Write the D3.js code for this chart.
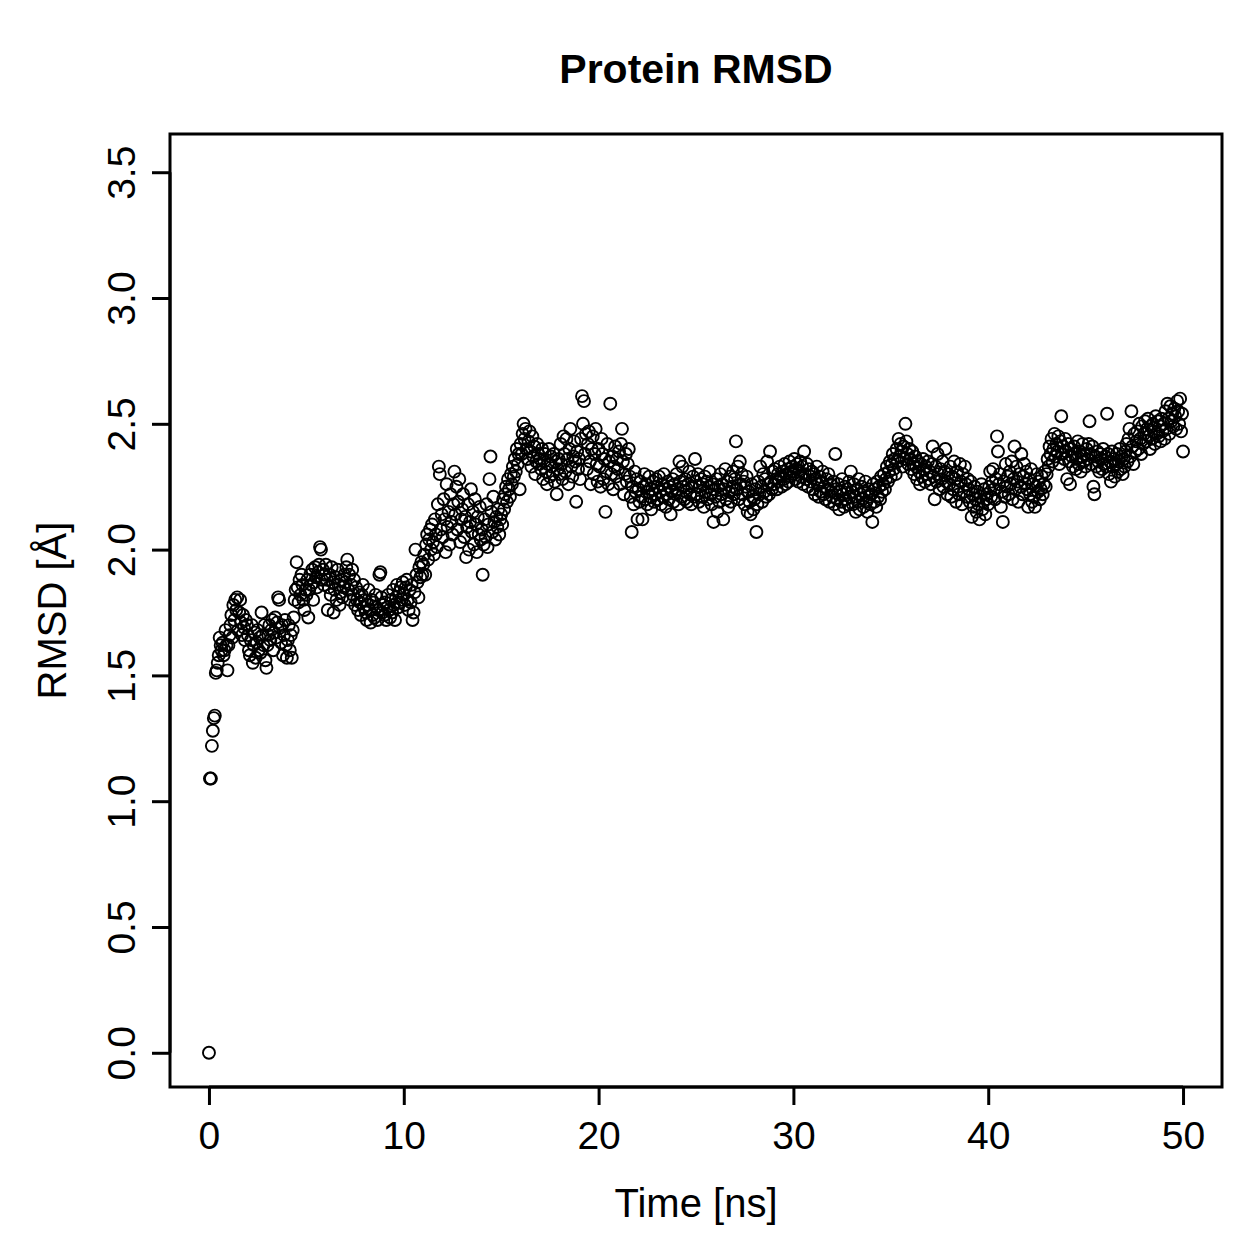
<!DOCTYPE html>
<html lang="en">
<head>
  <meta charset="UTF-8">
  <title>Protein RMSD</title>
  <style>
    body, html { margin: 0; padding: 0; background: white; }
    svg text { font-family: 'Liberation Sans', Arial, Helvetica, sans-serif; fill: black; }
  </style>
</head>
<body>
  <svg id="svg" width="1259" height="1259"></svg>
  <script src="https://d3js.org/d3.v7.min.js"></script>
  <script>
    // RMSD values, one row per ns, sampled every 0.05 ns
    const dt = 0.05
    const rmsd = [
      0.00, 1.09, 1.09, 1.22, 1.28, 1.33, 1.34, 1.51, 1.52, 1.55, 1.58, 1.65, 1.62, 1.60, 1.63, 1.58, 1.60, 1.68, 1.62, 1.52,
      1.62, 1.66, 1.70, 1.74, 1.65, 1.78, 1.72, 1.80, 1.76, 1.81, 1.68, 1.75, 1.80, 1.71, 1.66, 1.74, 1.69, 1.64, 1.72, 1.70,
      1.66, 1.60, 1.58, 1.64, 1.70, 1.55, 1.62, 1.67, 1.57, 1.63, 1.68, 1.60, 1.65, 1.59, 1.75, 1.66, 1.62, 1.70, 1.56, 1.53,
      1.62, 1.66, 1.70, 1.64, 1.68, 1.72, 1.60, 1.67, 1.73, 1.65, 1.71, 1.81, 1.80, 1.69, 1.63, 1.70, 1.58, 1.66, 1.72, 1.62,
      1.57, 1.64, 1.70, 1.60, 1.66, 1.57, 1.68, 1.73, 1.80, 1.84, 1.95, 1.85, 1.79, 1.88, 1.82, 1.90, 1.86, 1.80, 1.76, 1.84,
      1.82, 1.88, 1.73, 1.84, 1.90, 1.86, 1.92, 1.80, 1.87, 1.93, 1.89, 1.85, 1.91, 1.94, 2.01, 2.00, 1.88, 1.92, 1.86, 1.90,
      1.94, 1.88, 1.76, 1.85, 1.90, 1.82, 1.93, 1.87, 1.75, 1.84, 1.89, 1.80, 1.92, 1.86, 1.78, 1.83, 1.88, 1.81, 1.85, 1.90,
      1.87, 1.93, 1.96, 1.84, 1.90, 1.80, 1.86, 1.92, 1.82, 1.88, 1.78, 1.85, 1.80, 1.76, 1.83, 1.79, 1.74, 1.82, 1.86, 1.77,
      1.80, 1.75, 1.72, 1.78, 1.84, 1.76, 1.71, 1.80, 1.74, 1.79, 1.73, 1.82, 1.77, 1.72, 1.76, 1.90, 1.91, 1.81, 1.75, 1.78,
      1.74, 1.79, 1.72, 1.77, 1.82, 1.76, 1.73, 1.80, 1.75, 1.84, 1.78, 1.72, 1.81, 1.86, 1.77, 1.83, 1.79, 1.85, 1.80, 1.87,
      1.82, 1.78, 1.85, 1.88, 1.80, 1.76, 1.84, 1.79, 1.86, 1.72, 1.75, 1.83, 2.00, 1.90, 1.87, 1.81, 1.93, 1.89, 1.95, 1.90,
      1.94, 1.98, 1.90, 2.02, 2.06, 1.96, 2.04, 2.08, 2.00, 2.10, 2.03, 1.98, 2.12, 2.06, 2.01, 2.18, 2.33, 2.30, 2.08, 2.14,
      2.05, 2.20, 2.12, 1.99, 2.26, 2.09, 2.15, 2.02, 2.22, 2.11, 2.06, 2.18, 2.31, 2.14, 2.25, 2.08, 2.19, 2.28, 2.03, 2.12,
      2.16, 2.22, 2.05, 2.13, 1.97, 2.09, 2.18, 2.00, 2.11, 2.24, 2.07, 2.15, 2.02, 2.20, 2.10, 1.99, 2.13, 2.06, 2.17, 2.04,
      2.08, 1.90, 2.02, 2.12, 2.05, 2.18, 2.01, 2.10, 2.28, 2.37, 2.15, 2.07, 2.21, 2.11, 2.04, 2.13, 2.09, 2.16, 2.06, 2.12,
      2.14, 2.10, 2.20, 2.16, 2.22, 2.25, 2.19, 2.28, 2.24, 2.21, 2.30, 2.26, 2.33, 2.29, 2.36, 2.31, 2.40, 2.34, 2.38, 2.24,
      2.42, 2.38, 2.46, 2.50, 2.44, 2.48, 2.40, 2.36, 2.43, 2.47, 2.39, 2.33, 2.45, 2.37, 2.41, 2.30, 2.35, 2.42, 2.38, 2.34,
      2.36, 2.32, 2.40, 2.28, 2.35, 2.38, 2.31, 2.26, 2.34, 2.40, 2.29, 2.37, 2.33, 2.30, 2.38, 2.27, 2.35, 2.22, 2.32, 2.36,
      2.30, 2.42, 2.34, 2.28, 2.45, 2.38, 2.31, 2.44, 2.36, 2.26, 2.40, 2.48, 2.33, 2.29, 2.37, 2.43, 2.35, 2.19, 2.39, 2.32,
      2.36, 2.28, 2.44, 2.61, 2.50, 2.59, 2.38, 2.46, 2.32, 2.42, 2.47, 2.35, 2.26, 2.40, 2.45, 2.30, 2.38, 2.48, 2.34, 2.27,
      2.40, 2.33, 2.25, 2.44, 2.38, 2.28, 2.36, 2.15, 2.31, 2.42, 2.26, 2.35, 2.58, 2.30, 2.37, 2.24, 2.33, 2.41, 2.29, 2.36,
      2.32, 2.39, 2.26, 2.42, 2.48, 2.35, 2.22, 2.30, 2.38, 2.27, 2.34, 2.40, 2.29, 2.21, 2.07, 2.25, 2.18, 2.31, 2.23, 2.28,
      2.12, 2.24, 2.19, 2.27, 2.21, 2.12, 2.25, 2.30, 2.20, 2.26, 2.18, 2.23, 2.29, 2.21, 2.16, 2.24, 2.27, 2.19, 2.22, 2.28,
      2.25, 2.20, 2.29, 2.23, 2.18, 2.26, 2.21, 2.30, 2.24, 2.17, 2.22, 2.27, 2.20, 2.25, 2.14, 2.23, 2.28, 2.19, 2.26, 2.22,
      2.30, 2.24, 2.18, 2.35, 2.27, 2.21, 2.33, 2.25, 2.20, 2.28, 2.23, 2.19, 2.26, 2.31, 2.22, 2.18, 2.25, 2.29, 2.21, 2.36,
      2.27, 2.22, 2.30, 2.19, 2.25, 2.28, 2.21, 2.26, 2.17, 2.29, 2.23, 2.27, 2.20, 2.25, 2.31, 2.22, 2.18, 2.26, 2.11, 2.24,
      2.21, 2.28, 2.15, 2.25, 2.19, 2.30, 2.22, 2.26, 2.12, 2.24, 2.32, 2.20, 2.27, 2.17, 2.23, 2.29, 2.19, 2.25, 2.31, 2.22,
      2.28, 2.43, 2.24, 2.33, 2.20, 2.35, 2.26, 2.30, 2.22, 2.27, 2.18, 2.25, 2.29, 2.15, 2.23, 2.19, 2.14, 2.26, 2.21, 2.16,
      2.20, 2.24, 2.07, 2.18, 2.27, 2.22, 2.33, 2.25, 2.19, 2.30, 2.23, 2.28, 2.21, 2.35, 2.26, 2.22, 2.39, 2.27, 2.24, 2.31,
      2.26, 2.32, 2.28, 2.24, 2.30, 2.27, 2.33, 2.29, 2.25, 2.31, 2.28, 2.34, 2.26, 2.30, 2.32, 2.27, 2.35, 2.29, 2.31, 2.33,
      2.30, 2.36, 2.28, 2.32, 2.34, 2.27, 2.31, 2.35, 2.29, 2.33, 2.26, 2.39, 2.30, 2.28, 2.34, 2.25, 2.32, 2.29, 2.27, 2.31,
      2.24, 2.30, 2.22, 2.28, 2.33, 2.26, 2.21, 2.29, 2.23, 2.27, 2.31, 2.22, 2.25, 2.20, 2.28, 2.24, 2.30, 2.19, 2.26, 2.23,
      2.21, 2.27, 2.18, 2.38, 2.24, 2.20, 2.26, 2.16, 2.23, 2.19, 2.28, 2.22, 2.17, 2.25, 2.20, 2.24, 2.18, 2.27, 2.21, 2.31,
      2.23, 2.18, 2.26, 2.21, 2.15, 2.24, 2.19, 2.28, 2.16, 2.22, 2.25, 2.20, 2.17, 2.23, 2.27, 2.19, 2.15, 2.24, 2.21, 2.18,
      2.22, 2.11, 2.26, 2.19, 2.24, 2.17, 2.27, 2.21, 2.25, 2.20, 2.29, 2.23, 2.26, 2.30, 2.24, 2.28, 2.33, 2.27, 2.31, 2.35,
      2.29, 2.34, 2.38, 2.32, 2.36, 2.30, 2.40, 2.35, 2.44, 2.37, 2.42, 2.39, 2.33, 2.41, 2.36, 2.50, 2.43, 2.38, 2.34, 2.40,
      2.36, 2.32, 2.39, 2.34, 2.30, 2.37, 2.33, 2.28, 2.35, 2.31, 2.26, 2.34, 2.29, 2.36, 2.32, 2.27, 2.33, 2.30, 2.35, 2.28,
      2.31, 2.26, 2.34, 2.41, 2.29, 2.20, 2.33, 2.27, 2.38, 2.30, 2.24, 2.32, 2.28, 2.35, 2.25, 2.31, 2.40, 2.27, 2.22, 2.30,
      2.26, 2.33, 2.21, 2.29, 2.24, 2.35, 2.28, 2.19, 2.31, 2.25, 2.22, 2.34, 2.27, 2.18, 2.30, 2.23, 2.33, 2.26, 2.21, 2.28,
      2.24, 2.19, 2.27, 2.13, 2.22, 2.17, 2.25, 2.20, 2.15, 2.23, 2.18, 2.12, 2.21, 2.26, 2.16, 2.19, 2.24, 2.14, 2.20, 2.22,
      2.18, 2.25, 2.31, 2.21, 2.27, 2.32, 2.24, 2.20, 2.28, 2.45, 2.39, 2.26, 2.30, 2.17, 2.23, 2.11, 2.27, 2.21, 2.34, 2.25,
      2.29, 2.22, 2.31, 2.26, 2.35, 2.20, 2.28, 2.41, 2.24, 2.33, 2.27, 2.19, 2.30, 2.25, 2.38, 2.22, 2.29, 2.34, 2.26, 2.31,
      2.24, 2.17, 2.28, 2.22, 2.32, 2.19, 2.26, 2.21, 2.17, 2.25, 2.30, 2.23, 2.27, 2.20, 2.24, 2.29, 2.22, 2.26, 2.31, 2.25,
      2.30, 2.36, 2.33, 2.41, 2.38, 2.44, 2.35, 2.40, 2.46, 2.37, 2.42, 2.39, 2.45, 2.34, 2.43, 2.53, 2.38, 2.41, 2.36, 2.44,
      2.39, 2.28, 2.42, 2.35, 2.26, 2.40, 2.37, 2.33, 2.41, 2.38, 2.32, 2.36, 2.43, 2.34, 2.39, 2.31, 2.37, 2.42, 2.35, 2.38,
      2.33, 2.40, 2.36, 2.42, 2.51, 2.38, 2.34, 2.41, 2.25, 2.22, 2.37, 2.33, 2.39, 2.35, 2.31, 2.38, 2.36, 2.32, 2.40, 2.34,
      2.37, 2.33, 2.54, 2.38, 2.30, 2.35, 2.27, 2.39, 2.33, 2.36, 2.29, 2.34, 2.38, 2.31, 2.35, 2.40, 2.32, 2.37, 2.30, 2.36,
      2.33, 2.39, 2.42, 2.35, 2.44, 2.48, 2.37, 2.55, 2.41, 2.34, 2.46, 2.39, 2.43, 2.47, 2.40, 2.50, 2.44, 2.38, 2.49, 2.42,
      2.46, 2.51, 2.43, 2.48, 2.52, 2.45, 2.40, 2.49, 2.44, 2.50, 2.47, 2.42, 2.53, 2.46, 2.51, 2.45, 2.49, 2.43, 2.52, 2.47,
      2.50, 2.44, 2.55, 2.48, 2.58, 2.52, 2.46, 2.57, 2.51, 2.54, 2.49, 2.56, 2.53, 2.48, 2.59, 2.55, 2.50, 2.60, 2.47, 2.54,
      2.39
    ]
    const xTicks = [0, 10, 20, 30, 40, 50]
    const yTicks = [0.0, 0.5, 1.0, 1.5, 2.0, 2.5, 3.0, 3.5]

    const data = rmsd.map((v, i) => ({ t: i * dt, v: v }))

    const plotLeft = 170, plotRight = 1222, plotTop = 134, plotBottom = 1087

    const xScale = d3.scaleLinear()
      .domain([-2, 52])
      .range([plotLeft, plotRight])

    const yScale = d3.scaleLinear()
      .domain([-0.14, 3.64])
      .range([plotBottom + 1, plotTop + 3])

    const svg = d3.select('#svg')

    svg.append('rect')
      .attr('width', 1259).attr('height', 1259)
      .attr('fill', 'white')

    // points (pch = 1)
    svg.append('g')
      .selectAll('circle')
      .data(data)
      .enter()
      .append('circle')
      .attr('cx', d => xScale(d.t))
      .attr('cy', d => yScale(d.v))
      .attr('r', 6)
      .attr('fill', 'none')
      .attr('stroke', 'black')
      .attr('stroke-width', 1.9)

    // box
    svg.append('rect')
      .attr('x', plotLeft).attr('y', plotTop)
      .attr('width', plotRight - plotLeft).attr('height', plotBottom - plotTop)
      .attr('fill', 'none')
      .attr('stroke', 'black')
      .attr('stroke-width', 3)

    // x axis
    const xAxis = svg.append('g')
      .attr('transform', `translate(0,${plotBottom})`)
      .call(d3.axisBottom(xScale).tickValues(xTicks).tickSize(18).tickPadding(16).tickFormat(d3.format('d')))
    xAxis.select('.domain').attr('d', `M${xScale(0)},0H${xScale(50)}`).attr('stroke-width', 3)
    xAxis.selectAll('.tick line').attr('stroke-width', 3)
    xAxis.selectAll('.tick text')
      .style('font-size', '39px')
      .style('font-family', "'Liberation Sans', Arial, sans-serif")

    // y axis (labels parallel to the axis, as in R)
    const yAxis = svg.append('g')
      .attr('transform', `translate(${plotLeft},0)`)
      .call(d3.axisLeft(yScale).tickValues(yTicks).tickSize(18).tickFormat(d3.format('.1f')))
    yAxis.select('.domain').attr('d', `M0,${yScale(0)}V${yScale(3.5)}`).attr('stroke-width', 3)
    yAxis.selectAll('.tick line').attr('stroke-width', 3)
    yAxis.selectAll('.tick text')
      .attr('x', null).attr('dy', null)
      .attr('text-anchor', 'middle')
      .attr('transform', 'translate(-35,0) rotate(-90)')
      .style('font-size', '39px')
      .style('font-family', "'Liberation Sans', Arial, sans-serif")

    // title and axis labels
    svg.append('text')
      .attr('x', (plotLeft + plotRight) / 2).attr('y', 83)
      .attr('text-anchor', 'middle')
      .style('font-size', '41px')
      .style('font-weight', 'bold')
      .text('Protein RMSD')

    svg.append('text')
      .attr('x', (plotLeft + plotRight) / 2).attr('y', 1217)
      .attr('text-anchor', 'middle')
      .style('font-size', '40px')
      .text('Time [ns]')

    svg.append('text')
      .attr('transform', `translate(66,${(plotTop + plotBottom) / 2}) rotate(-90)`)
      .attr('text-anchor', 'middle')
      .style('font-size', '40px')
      .text('RMSD [Å]')
  </script>
</body>
</html>
